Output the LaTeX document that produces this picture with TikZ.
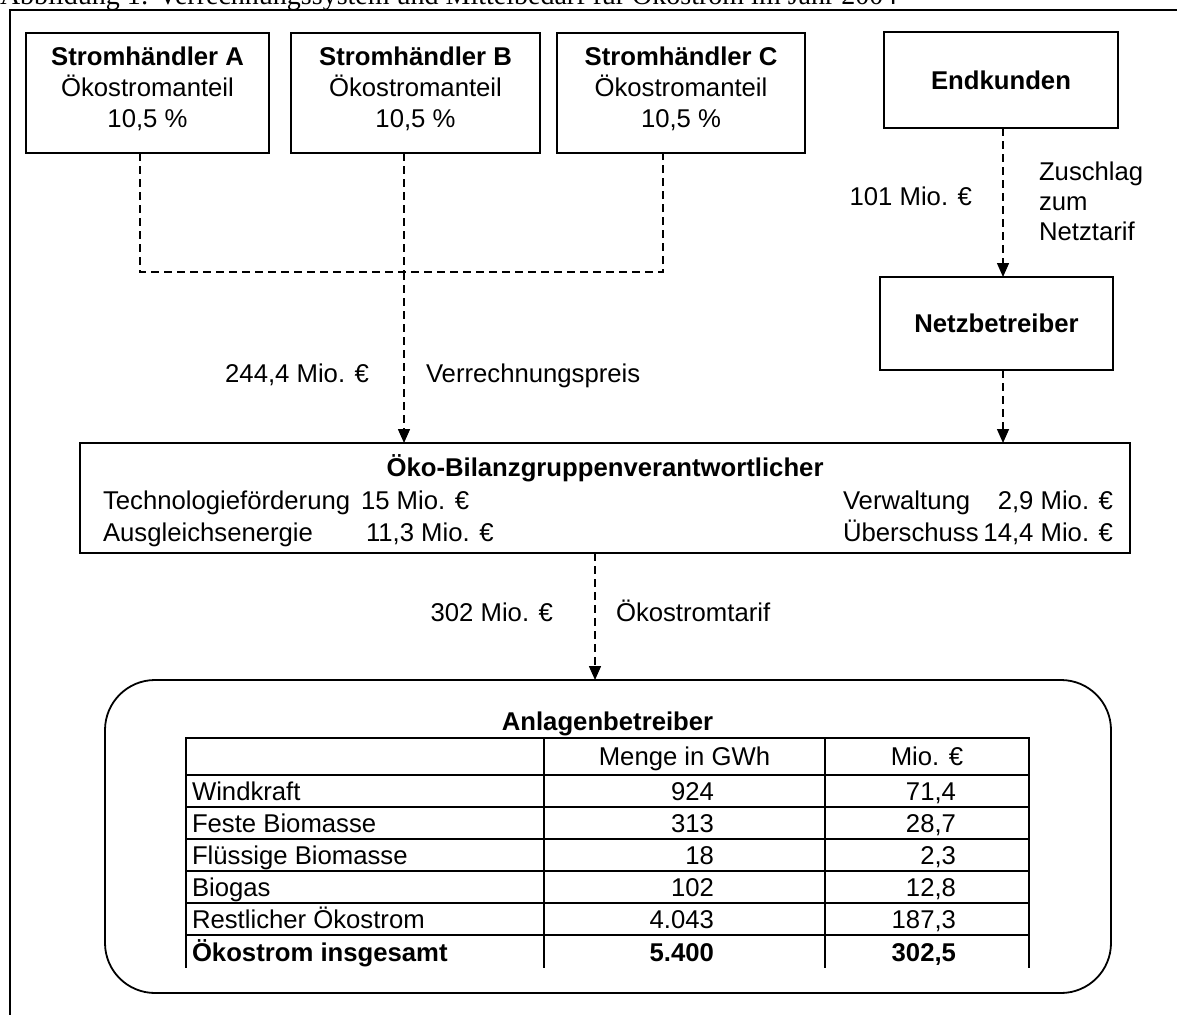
\documentclass[tikz,border=0pt]{standalone}
\usepackage{fontspec}
\setmainfont{Liberation Sans}
\newfontfamily\titleserif{Liberation Serif}
\usetikzlibrary{arrows.meta}
\newcommand\toprule{\rule{0pt}{20pt}}
\newcommand\botrule{\rule[-13pt]{0pt}{13pt}}
\begin{document}
\begin{tikzpicture}[x=1pt,y=-1pt,
  every node/.style={inner sep=0pt, outer sep=0pt, font=\fontsize{25.7}{30.7}\selectfont},
  box/.style={draw, line width=1.8pt},
  flow/.style={line width=1.5pt, dash pattern=on 8pt off 5pt},
  tip/.style={-{Triangle[width=12pt,length=14pt]}},
  lbl/.style={anchor=base west},
  rlbl/.style={anchor=base east},
  tline/.style={line width=1.8pt}
]
\useasboundingbox (0,0) rectangle (1177,1014);
\clip (0,0) rectangle (1177,1014);

% title (cut off at the top)
\node[anchor=base west, font=\titleserif\fontsize{28}{34}\selectfont] (title) at (0,5)
  {Abbildung 1: Verrechnungssystem und Mittelbedarf für Ökostrom im Jahr 2004};

% outer frame
\draw[line width=2pt] (10,1020) -- (10,10.5) -- (1180,10.5);

% traders
\node[box, minimum width=243pt, minimum height=120pt, align=center] (A) at (147.5,93)
  {\toprule\textbf{Stromhändler A}\\Ökostromanteil\\10,5 \%\botrule};
\node[box, minimum width=249pt, minimum height=120pt, align=center] (B) at (415.5,93)
  {\toprule\textbf{Stromhändler B}\\Ökostromanteil\\10,5 \%\botrule};
\node[box, minimum width=248pt, minimum height=120pt, align=center] (C) at (681,93)
  {\toprule\textbf{Stromhändler C}\\Ökostromanteil\\10,5 \%\botrule};

\node[box, minimum width=234pt, minimum height=96pt] (E) at (1001,80) {\textbf{Endkunden}};
\node[box, minimum width=233pt, minimum height=93pt] (N) at (996.5,323.5) {\textbf{Netzbetreiber}};

% Öko-Bilanzgruppenverantwortlicher
\node[box, minimum width=1050pt, minimum height=110pt] (O) at (605,498) {};
\node[anchor=base] (Ot) at (605,476) {\textbf{Öko-Bilanzgruppenverantwortlicher}};
\node[lbl] (O1) at (103,509) {Technologieförderung};
\node[lbl] (O2) at (361,509) {15 Mio. €};
\node[lbl] (O3) at (103,541) {Ausgleichsenergie};
\node[lbl] (O4) at (366,541) {11,3 Mio. €};
\node[lbl] (O5) at (843,509) {Verwaltung};
\node[rlbl] (O6) at (1113,509) {2,9 Mio. €};
\node[lbl] (O7) at (843,541) {Überschuss};
\node[rlbl] (O8) at (1113,541) {14,4 Mio. €};

% Anlagenbetreiber
\node[draw, line width=1.8pt, rounded corners=50pt, minimum width=1006pt, minimum height=313pt] (P) at (608,836.5) {};
\node[anchor=base] (Pt) at (607.5,730) {\textbf{Anlagenbetreiber}};

% table
\draw[tline] (186,738) -- (1029,738);
\draw[tline] (186,775) -- (1029,775);
\draw[tline] (186,807) -- (1029,807);
\draw[tline] (186,839) -- (1029,839);
\draw[tline] (186,871) -- (1029,871);
\draw[tline] (186,903) -- (1029,903);
\draw[line width=2.6pt] (186,935) -- (1029,935);
\foreach \x in {186,544,825,1029} \draw[tline] (\x,737.1) -- (\x,968);

\node[anchor=base] (h2) at (684.5,765) {Menge in GWh};
\node[anchor=base] (h3) at (927,765) {Mio. €};
\node[lbl] (r1) at (192,800) {Windkraft};
\node[rlbl] (r1a) at (714,800) {924};
\node[rlbl] (r1b) at (956,800) {71,4};
\node[lbl] (r2) at (192,832) {Feste Biomasse};
\node[rlbl] (r2a) at (714,832) {313};
\node[rlbl] (r2b) at (956,832) {28,7};
\node[lbl] (r3) at (192,864) {Flüssige Biomasse};
\node[rlbl] (r3a) at (714,864) {18};
\node[rlbl] (r3b) at (956,864) {2,3};
\node[lbl] (r4) at (192,896) {Biogas};
\node[rlbl] (r4a) at (714,896) {102};
\node[rlbl] (r4b) at (956,896) {12,8};
\node[lbl] (r5) at (192,928) {Restlicher Ökostrom};
\node[rlbl] (r5a) at (714,928) {4.043};
\node[rlbl] (r5b) at (956,928) {187,3};
\node[lbl] (r6) at (192,961) {\textbf{Ökostrom insgesamt}};
\node[rlbl] (r6a) at (714,961) {\textbf{5.400}};
\node[rlbl] (r6b) at (956,961) {\textbf{302,5}};

% connectors
\coordinate (jA) at (140,272);
\coordinate (jB) at (404,272);
\coordinate (jC) at (663,272);
\coordinate (xE) at (1003,0);
\coordinate (xO) at (595,0);
\draw[flow] (A.south -| jA) -- (jA) -- (jC) -- (C.south -| jC);
\draw[flow] (B.south -| jB) -- (jB);
\draw[flow, tip] (jB) -- (O.north -| jB);
\draw[flow, tip] (E.south -| xE) -- (N.north -| xE);
\draw[flow, tip] (N.south -| xE) -- (O.north -| xE);
\draw[flow, tip] (O.south -| xO) -- (P.north -| xO);

% flow labels
\node[rlbl] (l1) at (369,382) {244,4 Mio. €};
\node[lbl] (l2) at (426,382) {Verrechnungspreis};
\node[rlbl] (l3) at (972,205) {101 Mio. €};
\node[lbl] (l4) at (1039,180) {Zuschlag};
\node[lbl] (l5) at (1039,210) {zum};
\node[lbl] (l6) at (1039,240) {Netztarif};
\node[rlbl] (l7) at (553,621) {302 Mio. €};
\node[lbl] (l8) at (616,621) {Ökostromtarif};
\end{tikzpicture}
\end{document}
